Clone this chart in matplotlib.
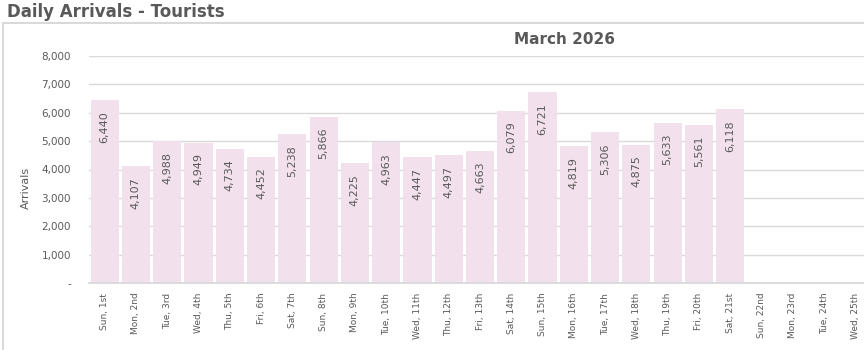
import matplotlib.pyplot as plt
from matplotlib.patches import Rectangle
from matplotlib.ticker import FuncFormatter

days = ["Sun, 1st", "Mon, 2nd", "Tue, 3rd", "Wed, 4th", "Thu, 5th", "Fri, 6th", "Sat, 7th",
        "Sun, 8th", "Mon, 9th", "Tue, 10th", "Wed, 11th", "Thu, 12th", "Fri, 13th", "Sat, 14th",
        "Sun, 15th", "Mon, 16th", "Tue, 17th", "Wed, 18th", "Thu, 19th", "Fri, 20th", "Sat, 21st",
        "Sun, 22nd", "Mon, 23rd", "Tue, 24th", "Wed, 25th"]
arrivals = [6440, 4107, 4988, 4949, 4734, 4452, 5238, 5866, 4225, 4963, 4447, 4497, 4663,
            6079, 6721, 4819, 5306, 4875, 5633, 5561, 6118]

bar_col = "#f2e0ec"
txt_col = "#595959"

fig = plt.figure(figsize=(8.64, 3.5), dpi=100)
# chart border (right and bottom run off the image)
fig.patches.append(Rectangle((0.004, -0.2), 1.2, 1.135, transform=fig.transFigure,
                             fill=False, edgecolor="#d9d9d9", lw=1.5))
fig.text(0.008, 0.965, "Daily Arrivals - Tourists", fontsize=12, fontweight="bold",
         color=txt_col, va="center", ha="left")
fig.text(565 / 864, 1 - 40 / 350, "March 2026", fontsize=11, fontweight="bold",
         color=txt_col, va="center", ha="center")

ax = fig.add_axes([89 / 864, 67 / 350, 782 / 864, 227 / 350])
x = list(range(len(days)))
ax.bar(x[:len(arrivals)], arrivals, width=0.9, color=bar_col, zorder=2)
for i, v in enumerate(arrivals):
    ax.text(i, v - 380, f"{v:,}", rotation=90, ha="center", va="top",
            fontsize=8, color=txt_col, zorder=3)

ax.set_xlim(-0.5, len(days) - 0.5)
ax.set_ylim(0, 8000)
ax.set_yticks(range(0, 8001, 1000))
ax.yaxis.set_major_formatter(FuncFormatter(lambda v, p: "-" if v == 0 else f"{int(v):,}"))
ax.set_xticks(x)
ax.set_xticklabels(days, rotation=90, fontsize=6.5, color=txt_col)
ax.tick_params(axis="y", labelsize=7.5, colors=txt_col, length=0, pad=13)
ax.tick_params(axis="x", length=0, pad=7)
ax.grid(axis="y", color="#d9d9d9", lw=1.0, zorder=0)
for s in ["top", "right", "left"]:
    ax.spines[s].set_visible(False)
ax.spines["bottom"].set_color("#d9d9d9")
ax.spines["bottom"].set_linewidth(1.3)
ax.set_ylabel("Arrivals", fontsize=8, color=txt_col)
ax.yaxis.set_label_coords(-0.074, 0.42)

fig.savefig("out.png", dpi=100)
